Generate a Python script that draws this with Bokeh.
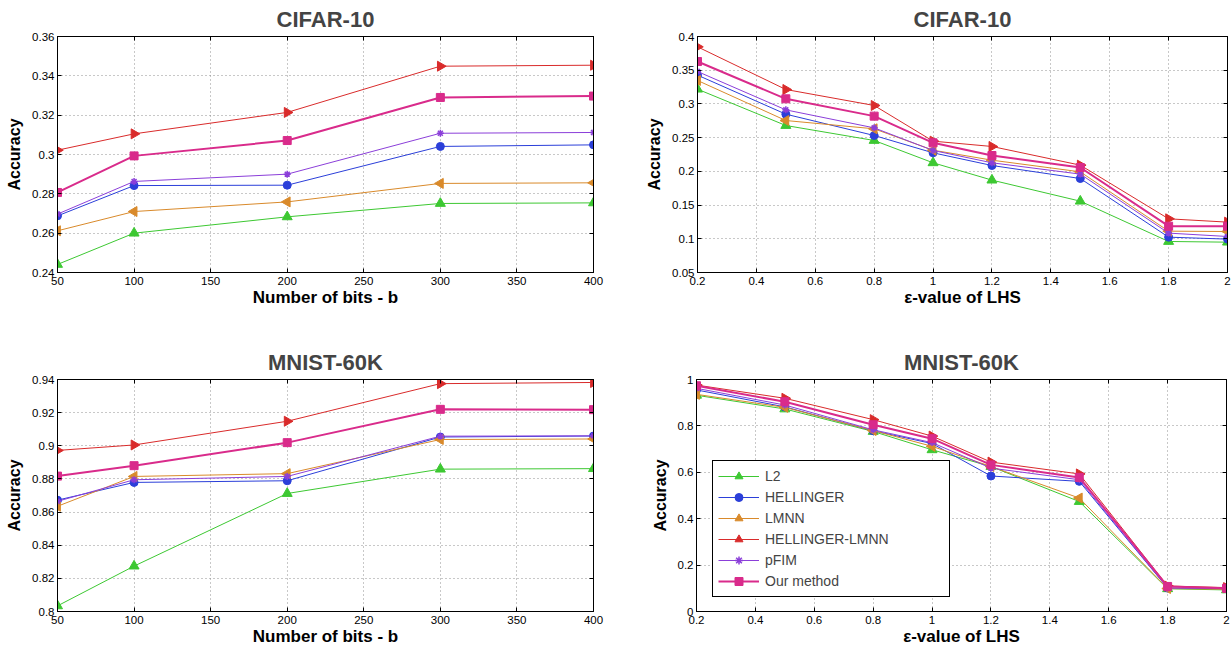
import math
from bokeh.plotting import figure
from bokeh.layouts import column, row
from bokeh.models import (Range1d, FixedTicker, CustomJSTickFormatter, LinearAxis,
                          Legend, LegendItem, CustomLabelingPolicy)
from bokeh.embed import file_html
from bokeh.resources import INLINE

# ---------------- data ----------------
bits = [50, 100, 200, 300, 400]
eps = [0.2, 0.5, 0.8, 1.0, 1.2, 1.5, 1.8, 2.0]

method_names = ["L2", "HELLINGER", "LMNN", "HELLINGER-LMNN", "pFIM", "Our method"]

cifar_bits_l2 = [0.2441, 0.2600, 0.2683, 0.2751, 0.2754]
cifar_bits_hellinger = [0.2688, 0.2842, 0.2844, 0.3041, 0.3049]
cifar_bits_lmnn = [0.2612, 0.2710, 0.2759, 0.2853, 0.2856]
cifar_bits_hlmnn = [0.3022, 0.3105, 0.3214, 0.3449, 0.3454]
cifar_bits_pfim = [0.2697, 0.2863, 0.2900, 0.3108, 0.3112]
cifar_bits_ours = [0.2807, 0.2993, 0.3071, 0.3290, 0.3297]

cifar_eps_l2 = [0.3219, 0.2680, 0.2458, 0.2127, 0.1870, 0.1558, 0.0960, 0.0950]
cifar_eps_hellinger = [0.3427, 0.2848, 0.2532, 0.2275, 0.2087, 0.1894, 0.1024, 0.0995]
cifar_eps_lmnn = [0.3348, 0.2754, 0.2631, 0.2314, 0.2166, 0.1993, 0.1113, 0.1108]
cifar_eps_hlmnn = [0.3847, 0.3214, 0.2977, 0.2448, 0.2369, 0.2092, 0.1296, 0.1247]
cifar_eps_pfim = [0.3481, 0.2912, 0.2645, 0.2310, 0.2127, 0.1959, 0.1084, 0.1034]
cifar_eps_ours = [0.3629, 0.3076, 0.2819, 0.2423, 0.2235, 0.2057, 0.1187, 0.1187]

mnist_bits_l2 = [0.8034, 0.8274, 0.8712, 0.8859, 0.8862]
mnist_bits_hellinger = [0.8672, 0.8779, 0.8789, 0.9053, 0.9059]
mnist_bits_lmnn = [0.8635, 0.8815, 0.8832, 0.9038, 0.9041]
mnist_bits_hlmnn = [0.8972, 0.9005, 0.9148, 0.9375, 0.9382]
mnist_bits_pfim = [0.8665, 0.8795, 0.8815, 0.9058, 0.9060]
mnist_bits_ours = [0.8817, 0.8880, 0.9019, 0.9220, 0.9218]

mnist_eps_l2 = [0.932, 0.873, 0.776, 0.697, 0.625, 0.474, 0.098, 0.093]
mnist_eps_hellinger = [0.955, 0.882, 0.779, 0.724, 0.584, 0.561, 0.101, 0.099]
mnist_eps_lmnn = [0.936, 0.880, 0.780, 0.712, 0.625, 0.489, 0.099, 0.096]
mnist_eps_hlmnn = [0.976, 0.919, 0.827, 0.756, 0.644, 0.593, 0.110, 0.103]
mnist_eps_pfim = [0.962, 0.890, 0.783, 0.728, 0.618, 0.568, 0.101, 0.098]
mnist_eps_ours = [0.973, 0.904, 0.805, 0.745, 0.632, 0.578, 0.108, 0.100]

bits_ticks = [50, 100, 150, 200, 250, 300, 350, 400]
eps_ticks = [0.2, 0.4, 0.6, 0.8, 1.0, 1.2, 1.4, 1.6, 1.8, 2.0]
cifar_bits_yticks = [0.24, 0.26, 0.28, 0.30, 0.32, 0.34, 0.36]
cifar_eps_yticks = [0.05, 0.1, 0.15, 0.2, 0.25, 0.3, 0.35, 0.4]
mnist_bits_yticks = [0.8, 0.82, 0.84, 0.86, 0.88, 0.9, 0.92, 0.94]
mnist_eps_yticks = [0, 0.2, 0.4, 0.6, 0.8, 1.0]

# ---------------- styles ----------------
colors = ["#3dc832", "#2b3fd9", "#d98a2b", "#d92b2b", "#8b3fd9", "#d92b8b"]
markers = ["triangle", "circle", "triangle", "triangle", "asterisk", "square"]
angles = [0, 0, math.pi / 2, -math.pi / 2, 0, 0]
msizes = [10, 8, 10, 10, 7, 8]
lwidths = [1, 1, 1, 1, 1, 2]

FONT = "Liberation Sans"
fmt_code = "return String(Number(tick.toFixed(2)));"
hide_all = "for (const i of indices) indices.unset(i); return indices"


def panel(xs, series, xr, yr, xticks, yticks, title, xlabel,
          fw, fh, mbl, mbr, mbt, mbb, legend=False):
    p = figure(frame_width=fw, frame_height=fh, x_range=Range1d(*xr), y_range=Range1d(*yr),
               output_backend="svg", toolbar_location=None,
               min_border_left=mbl, min_border_right=mbr,
               min_border_top=mbt, min_border_bottom=mbb)
    p.title.text = title
    p.title.align = "center"
    p.title.text_font = FONT
    p.title.text_font_size = "22px"
    p.title.text_font_style = "bold"
    p.title.standoff = 9

    p.outline_line_color = "black"
    p.outline_line_alpha = 1
    p.outline_line_width = 1

    for ax, ticks in ((p.xaxis[0], xticks), (p.yaxis[0], yticks)):
        ax.ticker = FixedTicker(ticks=ticks)
        ax.formatter = CustomJSTickFormatter(code=fmt_code)
        ax.major_tick_in = 4
        ax.major_tick_out = 0
        ax.minor_tick_in = 0
        ax.minor_tick_out = 0
        ax.axis_line_color = "black"
        ax.major_tick_line_color = "black"
        ax.major_label_text_font = FONT
        ax.major_label_text_font_size = "11.5px"
        ax.major_label_text_color = "black"
        ax.axis_label_text_font = FONT
        ax.axis_label_text_font_size = "17px"
        ax.axis_label_text_font_style = "bold"
        ax.axis_label_text_color = "black"
    p.xaxis.axis_label = xlabel
    p.yaxis.axis_label = "Accuracy"
    p.yaxis.axis_label_text_font_size = "16px"
    p.xaxis.major_label_standoff = 4
    p.xaxis.axis_label_standoff = 0
    p.yaxis.major_label_standoff = 3
    p.yaxis.axis_label_standoff = 6

    for loc, ticks in (("above", xticks), ("right", yticks)):
        ax = LinearAxis(ticker=FixedTicker(ticks=ticks), major_label_text_font_size="0px",
                        major_label_policy=CustomLabelingPolicy(code=hide_all),
                        major_label_standoff=0, major_tick_in=4, major_tick_out=0,
                        minor_tick_in=0, minor_tick_out=0, axis_line_color="black")
        p.add_layout(ax, loc)

    for g in (p.xgrid[0], p.ygrid[0]):
        g.grid_line_color = "#777777"
        g.grid_line_dash = "1 3"
        g.grid_line_width = 1
        g.grid_line_alpha = 0.8

    items = []
    for i, ys in enumerate(series):
        lr = p.line(xs, ys, line_color=colors[i], line_width=lwidths[i])
        sr = p.scatter(xs, ys, marker=markers[i], size=msizes[i], angle=angles[i],
                       fill_color=colors[i], line_color=colors[i],
                       line_width=1.5 if markers[i] == "asterisk" else 1)
        items.append(LegendItem(label=method_names[i], renderers=[lr, sr]))

    if legend:
        lg = Legend(items=items, location=(16, 14))
        lg.border_line_color = "black"
        lg.border_line_width = 1
        lg.border_line_alpha = 1
        lg.background_fill_color = "white"
        lg.background_fill_alpha = 1
        lg.label_text_font = FONT
        lg.label_text_font_size = "14px"
        lg.glyph_width = 41
        lg.glyph_height = 20
        lg.label_height = 20
        lg.label_width = 179
        lg.label_standoff = 6
        lg.spacing = 1
        lg.padding = 5
        lg.margin = 0
        p.add_layout(lg)
    return p


p1 = panel(bits, [cifar_bits_l2, cifar_bits_hellinger, cifar_bits_lmnn, cifar_bits_hlmnn,
                  cifar_bits_pfim, cifar_bits_ours],
           (50, 400), (0.24, 0.36), bits_ticks, cifar_bits_yticks, "CIFAR-10",
           "Number of bits - b", 536, 236, 57, 50, 36, 57)
p2 = panel(eps, [cifar_eps_l2, cifar_eps_hellinger, cifar_eps_lmnn, cifar_eps_hlmnn,
                 cifar_eps_pfim, cifar_eps_ours],
           (0.2, 2.0), (0.05, 0.4), eps_ticks, cifar_eps_yticks, "CIFAR-10",
           "ε-value of LHS", 530, 236, 53, 4, 36, 57)
p3 = panel(bits, [mnist_bits_l2, mnist_bits_hellinger, mnist_bits_lmnn, mnist_bits_hlmnn,
                  mnist_bits_pfim, mnist_bits_ours],
           (50, 400), (0.8, 0.94), bits_ticks, mnist_bits_yticks, "MNIST-60K",
           "Number of bits - b", 536, 232, 57, 50, 50, 35)
p4 = panel(eps, [mnist_eps_l2, mnist_eps_hellinger, mnist_eps_lmnn, mnist_eps_hlmnn,
                 mnist_eps_pfim, mnist_eps_ours],
           (0.2, 2.0), (0, 1), eps_ticks, mnist_eps_yticks, "MNIST-60K",
           "ε-value of LHS", 530, 232, 53, 4, 50, 35, legend=True)

layout = column(row(p1, p2), row(p3, p4))
open("out.html", "w").write(file_html(layout, INLINE))
